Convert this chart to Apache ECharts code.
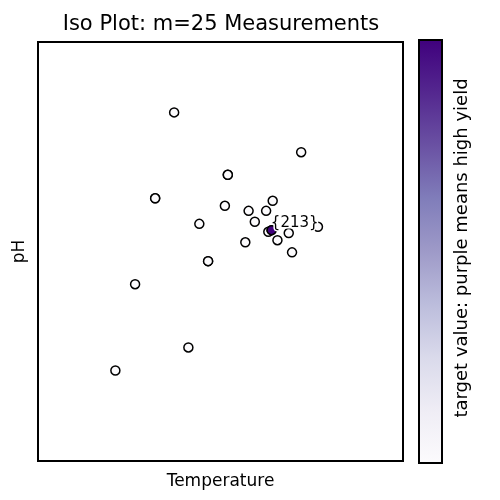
<!DOCTYPE html>
<html lang="en">
<head>
    <meta charset="UTF-8">
    <title>Iso Plot</title>
    <script src="https://cdn.jsdelivr.net/npm/echarts@6/dist/echarts.min.js"></script>
    <style>
        body{ margin:0; background:#fff }
        #main{ width:500px; height:500px }
    </style>
</head>
<body>
<div id="main"></div>
<script type="text/javascript">
    // measurements (no ticks in the plot, so units are 0..100 of the frame)
    var temperature = [37.3, 72.1, 52.0, 52.0, 32.1, 32.1, 64.3, 51.2, 57.7, 62.5, 44.2, 59.4,
                       76.7, 63.1, 68.7, 65.6, 56.8, 69.6, 46.6, 46.6, 26.6, 41.2, 21.2, 64.0, 64.0];
    var ph          = [83.2, 73.7, 68.3, 68.3, 62.7, 62.7, 62.1, 60.9, 59.7, 59.7, 56.6, 57.1,
                       55.9, 54.7, 54.4, 52.7, 52.2, 49.8, 47.7, 47.7, 42.2, 27.1, 21.6, 55.1, 55.1];
    // target value, 1 = high yield (the purple one)
    var target      = [0, 0, 0, 0, 0, 0, 0, 0, 0, 0, 0, 0,
                       0, 0, 0, 0, 0, 0, 0, 0, 0, 0, 0, 0, 1];
    var bestLabel = '{213}';
    var purples = ['#fcfbfd', '#efedf5', '#dadaeb', '#bcbddc', '#9e9ac8', '#807dba', '#6a51a3', '#54278f', '#3f007d'];

    var pts = [];
    for (var i = 0; i < temperature.length; i++) {
        var p = {value: [temperature[i], ph[i], target[i]]};
        if (target[i] === 1) {
            p.label = {show: true};
            p.z = 5;
        }
        pts.push(p);
    }

    // colour bar gradient (top = dark)
    var stops = [];
    for (var k = 0; k < purples.length; k++) {
        stops.push({offset: k / (purples.length - 1), color: purples[purples.length - 1 - k]});
    }

    var font = 'DejaVu Sans';
    var myChart = echarts.init(document.getElementById('main'));
    var option = {
        animation: false,
        backgroundColor: '#fff',
        title: {
            text: 'Iso Plot: m=25 Measurements',
            left: 216, top: 9, textAlign: 'center',
            textStyle: {fontFamily: font, fontWeight: 'normal', fontSize: 21, color: '#000'}
        },
        grid: {
            left: 38, right: 97, top: 42, bottom: 39,
            show: true, borderColor: '#000', borderWidth: 2
        },
        xAxis: {
            type: 'value', min: 0, max: 100,
            name: 'Temperature', nameLocation: 'middle', nameGap: 12,
            nameTextStyle: {fontFamily: font, fontSize: 17, color: '#000'},
            axisLine: {show: false}, axisTick: {show: false},
            axisLabel: {show: false}, splitLine: {show: false}
        },
        yAxis: {
            type: 'value', min: 0, max: 100,
            name: 'pH', nameLocation: 'middle', nameGap: 10,
            nameTextStyle: {fontFamily: font, fontSize: 17, color: '#000'},
            axisLine: {show: false}, axisTick: {show: false},
            axisLabel: {show: false}, splitLine: {show: false}
        },
        visualMap: {
            show: false, type: 'continuous', min: 0, max: 1, dimension: 2,
            seriesIndex: 0, inRange: {color: purples}
        },
        graphic: [
            {
                type: 'rect', left: 418, top: 39, z: 100,
                shape: {width: 23, height: 423},
                style: {
                    fill: new echarts.graphic.LinearGradient(0, 0, 0, 1, stops),
                    stroke: '#000', lineWidth: 2
                }
            },
            {
                type: 'text', x: 462, y: 248, rotation: Math.PI / 2, z: 100,
                style: {
                    text: 'target value: purple means high yield',
                    font: '18px "DejaVu Sans"', fill: '#000',
                    align: 'center', verticalAlign: 'middle'
                }
            }
        ],
        series: [{
            type: 'scatter',
            symbolSize: 9,
            itemStyle: {borderColor: '#000', borderWidth: 1.5, opacity: 1},
            label: {
                show: false, formatter: bestLabel, position: 'right', offset: [-11, -7],
                color: '#000', fontFamily: font, fontSize: 15,
                textBorderColor: '#fff', textBorderWidth: 3
            },
            data: pts
        }]
    };
    myChart.setOption(option);
</script>
</body>
</html>
